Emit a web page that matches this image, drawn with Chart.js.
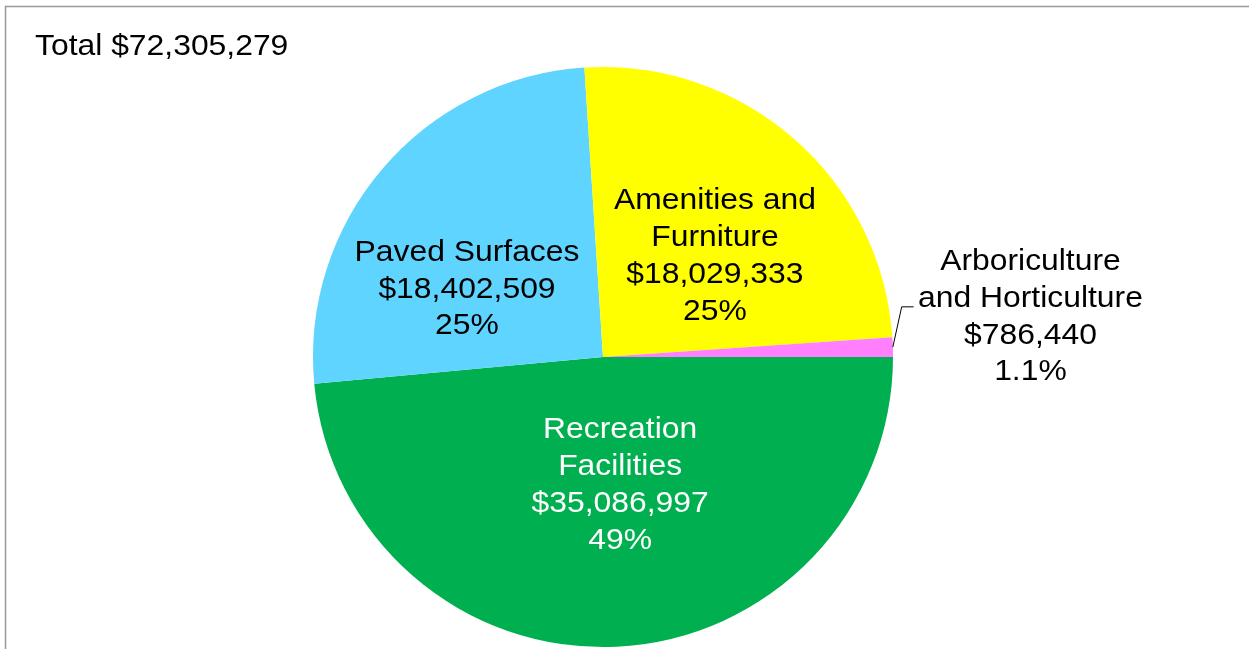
<!DOCTYPE html>
<html>
<head>
<meta charset="utf-8">
<title>Total asset value by category</title>
<script src="https://cdn.jsdelivr.net/npm/chart.js@4.4.1/dist/chart.umd.min.js"></script>
<style>
  html, body { margin: 0; padding: 0; background: #fff; }
  #wrap { position: relative; width: 1249px; height: 649px; overflow: hidden; }
</style>
</head>
<body>
<div id="wrap"><canvas id="assetPie" width="1249" height="649"></canvas></div>
<script>
// categories and values
const categories = [
    ['Recreation', 'Facilities'],
    ['Paved Surfaces'],
    ['Amenities and', 'Furniture'],
    ['Arboriculture', 'and Horticulture']
];
const values = [35086997, 18402509, 18029333, 786440];
const sliceColors = ['#00b050', '#5fd4ff', '#ffff00', '#ff7fff'];
const labelColors = ['#ffffff', '#000000', '#000000', '#000000'];

// label block centres, in units of the pie radius from its centre
const labelAnchors = [[0.059, 0.471], [-0.469, -0.205], [0.386, -0.319], [1.474, -0.110]];
// leader line for the small slice: elbow and end, radius units
const leader = { index: 3, elbow: [1.030, -0.173], end: [1.071, -0.173] };

const FONT = '29.5px "Liberation Sans", Arial, sans-serif';
const STRETCH = 1.08;   // text comes out a little wide, like GDI-rendered Arial
const LINE_H = 36.8;

const total = values.reduce((a, b) => a + b, 0);

function money(v) {
    return '$' + v.toLocaleString('en-US');
}
function pct(v) {
    const p = v / total * 100;
    return (p < 10 ? p.toFixed(1) : Math.round(p).toString()) + '%';
}

function wideText(ctx, t, x, y) {
    ctx.save();
    ctx.translate(x, y);
    ctx.scale(STRETCH, 1);
    ctx.fillText(t, 0, 0);
    ctx.restore();
}

// frame, title and slice labels
const annotate = {
    id: 'annotate',
    beforeDraw(chart) {
        const ctx = chart.ctx;
        ctx.save();
        ctx.strokeStyle = '#999';
        ctx.lineWidth = 1.5;
        ctx.beginPath();
        ctx.moveTo(5.5, chart.height);
        ctx.lineTo(5.5, 6.5);
        ctx.lineTo(chart.width, 6.5);
        ctx.stroke();
        ctx.restore();
    },
    afterDatasetsDraw(chart) {
        const ctx = chart.ctx;
        const arcs = chart.getDatasetMeta(0).data;
        const cx = arcs[0].x, cy = arcs[0].y, r = arcs[0].outerRadius;

        ctx.save();
        ctx.font = FONT;
        ctx.textBaseline = 'alphabetic';

        ctx.fillStyle = '#000';
        ctx.textAlign = 'left';
        wideText(ctx, 'Total ' + money(total), 35, 55);

        ctx.textAlign = 'center';
        arcs.forEach((arc, i) => {
            const lines = categories[i].concat([money(values[i]), pct(values[i])]);
            const x = cx + labelAnchors[i][0] * r;
            const yMid = cy + labelAnchors[i][1] * r;
            const y0 = yMid - (lines.length - 1) * LINE_H / 2;
            ctx.fillStyle = labelColors[i];
            lines.forEach((t, k) => wideText(ctx, t, x, y0 + k * LINE_H));
        });

        // leader from the small slice out to its label
        const a = arcs[leader.index];
        const mid = (a.startAngle + a.endAngle) / 2;
        ctx.strokeStyle = '#000';
        ctx.lineWidth = 1;
        ctx.beginPath();
        ctx.moveTo(cx + Math.cos(mid) * r, cy + Math.sin(mid) * r);
        ctx.lineTo(cx + leader.elbow[0] * r, cy + leader.elbow[1] * r);
        ctx.lineTo(cx + leader.end[0] * r, cy + leader.end[1] * r);
        ctx.stroke();
        ctx.restore();
    }
};

new Chart(document.getElementById('assetPie'), {
    type: 'pie',
    data: {
        labels: categories.map(c => c.join(' ')),
        datasets: [{
            data: values,
            backgroundColor: sliceColors,
            borderWidth: 0
        }]
    },
    options: {
        responsive: false,
        animation: false,
        rotation: 90,
        layout: { padding: { left: 313, right: 356, top: 67, bottom: 2 } },
        plugins: {
            legend: { display: false },
            tooltip: { enabled: false }
        }
    },
    plugins: [annotate]
});
</script>
</body>
</html>
